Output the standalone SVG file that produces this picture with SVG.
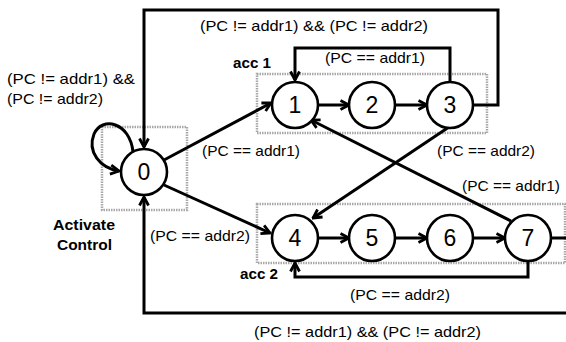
<svg xmlns="http://www.w3.org/2000/svg" width="566" height="342" viewBox="0 0 566 342">
<defs>
<marker id="ah" markerUnits="userSpaceOnUse" viewBox="0 0 12 12" refX="10.5" refY="6" markerWidth="12" markerHeight="12" orient="auto">
<path d="M2,1.5 L10.5,6 L2,10.5" fill="none" stroke="#000" stroke-width="2.8" stroke-linejoin="miter"/>
</marker>
<style>
.box{fill:none;stroke:#a8a8a8;stroke-width:2.5;stroke-dasharray:1.5 1}
.node circle{fill:#fff;stroke:#000;stroke-width:2.6}
.node text{font-family:"Liberation Sans",Arial,sans-serif;font-size:23px;text-anchor:middle;fill:#000}
.e{fill:none;stroke:#000;stroke-width:3}
.a{marker-end:url(#ah)}
.lbl{font-family:"Liberation Sans",Arial,sans-serif;font-size:15px;fill:#000}
.b{font-family:"Liberation Sans",Arial,sans-serif;font-size:14.5px;font-weight:bold;fill:#000}
</style>
</defs>
<rect width="566" height="342" fill="#fff"/>
<g id="boxes">
<rect class="box" x="102" y="127" width="85" height="83"/>
<rect class="box" x="257" y="74" width="230" height="59"/>
<rect class="box" x="257" y="204" width="308" height="59"/>
</g>
<g id="connectors">
<polyline class="e a" points="473,105 498,105 498,10 144,10 144,147"/>
<polyline class="e a" points="450,82 450,48 295,48 295,80"/>
<polyline class="e" points="551,238 572,238 572,313"/>
<polyline class="e a" points="572,313 144,313 144,197"/>
<polyline class="e a" points="528,261 528,277 295,277 295,263"/>
<path class="e a" d="M133,152 C130,122 102,116 94,134 C87,152 100,168 119,171"/>
<line class="e a" x1="164" y1="160" x2="271" y2="103"/>
<line class="e a" x1="164" y1="185" x2="270" y2="233"/>
<line class="e a" x1="449" y1="127" x2="313" y2="218"/>
<line class="e a" x1="511" y1="221" x2="311" y2="120"/>
<line class="e a" x1="318" y1="105" x2="349" y2="105"/>
<line class="e a" x1="395" y1="105" x2="427" y2="105"/>
<line class="e a" x1="318" y1="238" x2="349" y2="238"/>
<line class="e a" x1="395" y1="238" x2="427" y2="238"/>
<line class="e a" x1="473" y1="238" x2="505" y2="238"/>
</g>
<g id="n0" class="node"><circle cx="144" cy="172" r="23"/><text x="144" y="180">0</text></g>
<g id="n1" class="node"><circle cx="295" cy="105" r="23"/><text x="295" y="113">1</text></g>
<g id="n2" class="node"><circle cx="372" cy="105" r="23"/><text x="372" y="113">2</text></g>
<g id="n3" class="node"><circle cx="450" cy="105" r="23"/><text x="450" y="113">3</text></g>
<g id="n4" class="node"><circle cx="295" cy="238" r="23"/><text x="295" y="246">4</text></g>
<g id="n5" class="node"><circle cx="372" cy="238" r="23"/><text x="372" y="246">5</text></g>
<g id="n6" class="node"><circle cx="450" cy="238" r="23"/><text x="450" y="246">6</text></g>
<g id="n7" class="node"><circle cx="528" cy="238" r="23"/><text x="528" y="246">7</text></g>
<g id="labels">
<text class="lbl" x="200" y="31" textLength="228" lengthAdjust="spacingAndGlyphs">(PC != addr1) &amp;&amp; (PC != addr2)</text>
<text class="lbl" x="325" y="63" textLength="100" lengthAdjust="spacingAndGlyphs">(PC == addr1)</text>
<text class="lbl" x="7" y="84" textLength="128" lengthAdjust="spacingAndGlyphs">(PC != addr1) &amp;&amp;</text>
<text class="lbl" x="7" y="104" textLength="96" lengthAdjust="spacingAndGlyphs">(PC != addr2)</text>
<text class="b" x="233" y="68" textLength="38" lengthAdjust="spacingAndGlyphs">acc 1</text>
<text class="lbl" x="202" y="156" textLength="98" lengthAdjust="spacingAndGlyphs">(PC == addr1)</text>
<text class="lbl" x="437" y="156" textLength="98" lengthAdjust="spacingAndGlyphs">(PC == addr2)</text>
<text class="lbl" x="462" y="191" textLength="98" lengthAdjust="spacingAndGlyphs">(PC == addr1)</text>
<text class="b" x="53" y="230" textLength="62" lengthAdjust="spacingAndGlyphs">Activate</text>
<text class="b" x="57" y="250" textLength="55" lengthAdjust="spacingAndGlyphs">Control</text>
<text class="lbl" x="150" y="241" textLength="100" lengthAdjust="spacingAndGlyphs">(PC == addr2)</text>
<text class="b" x="240" y="279" textLength="38" lengthAdjust="spacingAndGlyphs">acc 2</text>
<text class="lbl" x="350" y="300" textLength="100" lengthAdjust="spacingAndGlyphs">(PC == addr2)</text>
<text class="lbl" x="254" y="337" textLength="227" lengthAdjust="spacingAndGlyphs">(PC != addr1) &amp;&amp; (PC != addr2)</text>
</g>
</svg>
